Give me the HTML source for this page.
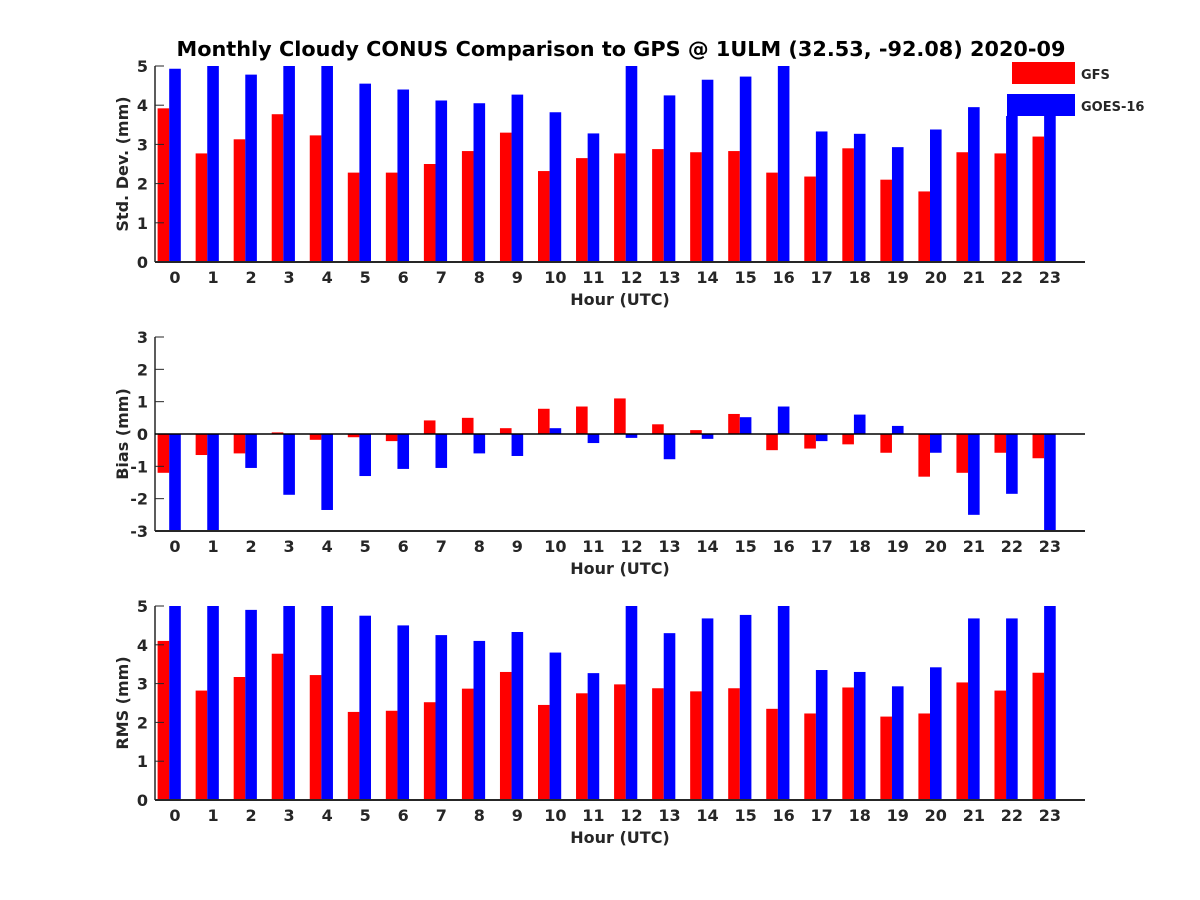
<!DOCTYPE html>
<html><head><meta charset="utf-8"><style>
body{margin:0;background:#fff}
svg{display:block}
text{font-family:"DejaVu Sans","Liberation Sans",sans-serif;font-weight:bold;fill:#262626}
</style></head><body>
<svg id="chart" width="1200" height="900" xmlns="http://www.w3.org/2000/svg">
<rect width="1200" height="900" fill="#fff"/>
<text x="621" y="56" font-size="20.8" text-anchor="middle" style="fill:#000">Monthly Cloudy CONUS Comparison to GPS @ 1ULM (32.53, -92.08) 2020-09</text>
</svg>
<script>
const hours = [0,1,2,3,4,5,6,7,8,9,10,11,12,13,14,15,16,17,18,19,20,21,22,23];
const stdGFS = [3.92,2.77,3.13,3.77,3.23,2.28,2.28,2.5,2.83,3.3,2.32,2.65,2.77,2.88,2.8,2.83,2.28,2.18,2.9,2.1,1.8,2.8,2.77,3.2];
const stdGOES = [4.93,5,4.78,5,5,4.55,4.4,4.12,4.05,4.27,3.82,3.28,5,4.25,4.65,4.73,5,3.33,3.27,2.93,3.38,3.95,4.8,3.9];
const biasGFS = [-1.2,-0.65,-0.6,0.05,-0.18,-0.1,-0.22,0.42,0.5,0.18,0.78,0.85,1.1,0.3,0.12,0.62,-0.5,-0.45,-0.32,-0.58,-1.32,-1.2,-0.58,-0.75];
const biasGOES = [-3,-3,-1.05,-1.88,-2.35,-1.3,-1.08,-1.05,-0.6,-0.68,0.18,-0.28,-0.12,-0.78,-0.15,0.52,0.85,-0.22,0.6,0.25,-0.58,-2.5,-1.85,-3];
const rmsGFS = [4.1,2.82,3.17,3.77,3.22,2.27,2.3,2.52,2.87,3.3,2.45,2.75,2.98,2.88,2.8,2.88,2.35,2.23,2.9,2.15,2.23,3.03,2.82,3.28];
const rmsGOES = [5,5,4.9,5,5,4.75,4.5,4.25,4.1,4.33,3.8,3.27,5,4.3,4.68,4.77,5,3.35,3.3,2.93,3.42,4.68,4.68,5];
const stdTicks = [0,1,2,3,4,5];
const biasTicks = [-3,-2,-1,0,1,2,3];
const rmsTicks = [0,1,2,3,4,5];

const svg = document.getElementById('chart');
const NS = 'http://www.w3.org/2000/svg';
function mk(tag, attrs, parent){const e=document.createElementNS(NS,tag);for(const k in attrs)e.setAttribute(k,attrs[k]);(parent||svg).appendChild(e);return e;}
const L=155, R=1085;
const xs = h => 175 + h*38.04;
const BW = 11.6;

function panel(name, top, bot, ymin, ymax, ticks, gfs, goes, ylabel, zeroLine){
  const g = mk('g',{});
  
  
  const ys = v => bot - (Math.max(ymin,Math.min(ymax,v))-ymin)/(ymax-ymin)*(bot-top);
  const y0 = ys(Math.max(ymin,0));
  hours.forEach((h,i)=>{
    const cx = xs(h);
    const v1 = gfs[i], v2 = goes[i];
    let x1 = cx - BW*1.5, w1 = BW;
    if (x1 < L) { w1 -= (L - x1); x1 = L; }
    const r = mk('rect',{x:x1,y:Math.min(ys(v1),y0),width:w1,height:Math.abs(ys(v1)-y0),fill:'#ff0000'},g);
    
    
    const b = mk('rect',{x:cx-BW/2,y:Math.min(ys(v2),y0),width:BW,height:Math.abs(ys(v2)-y0),fill:'#0000ff'},g);
    
    
    const t = mk('text',{x:cx,y:bot+21,'font-size':16,'text-anchor':'middle'},g);
    t.textContent = h;
    
    
  });
  ticks.forEach(v=>{
    const y = ys(v);
    mk('line',{x1:L,x2:L+9,y1:y,y2:y,stroke:'#262626','stroke-width':1},g);
    const t = mk('text',{x:148,y:y+6,'font-size':16,'text-anchor':'end'},g);
    t.textContent = v;
    
    
  });
  mk('line',{x1:L,x2:L,y1:top,y2:bot,stroke:'#262626','stroke-width':1.5},g);
  mk('line',{x1:L,x2:R,y1:bot,y2:bot,stroke:'#262626','stroke-width':2},g);
  if (zeroLine) mk('line',{x1:L,x2:R,y1:ys(0),y2:ys(0),stroke:'#000','stroke-width':1.5},g);
  const xl = mk('text',{x:620,y:bot+43,'font-size':16,'text-anchor':'middle'},g);
  xl.textContent = 'Hour (UTC)';
  
  
  const yc = (top+bot)/2;
  const yl = mk('text',{x:0,y:0,'font-size':16,'text-anchor':'middle',transform:`translate(128,${yc}) rotate(-90)`},g);
  yl.textContent = ylabel;
  
  
}
panel('std-dev', 66, 262, 0, 5, stdTicks, stdGFS, stdGOES, 'Std. Dev. (mm)', false);
panel('bias', 337, 531, -3, 3, biasTicks, biasGFS, biasGOES, 'Bias (mm)', true);
panel('rms', 606, 800, 0, 5, rmsTicks, rmsGFS, rmsGOES, 'RMS (mm)', false);

const lg = mk('g',{});


mk('rect',{x:1003,y:58,width:160,height:58,fill:'#fff'},lg);
mk('rect',{x:1012,y:62,width:63,height:22,fill:'#ff0000'},lg);
mk('rect',{x:1007,y:94,width:68,height:22,fill:'#0000ff'},lg);
const t1 = mk('text',{x:1081,y:79,'font-size':13},lg); t1.textContent='GFS';


const t2 = mk('text',{x:1081,y:111,'font-size':13},lg); t2.textContent='GOES-16';


</script>
</body></html>
